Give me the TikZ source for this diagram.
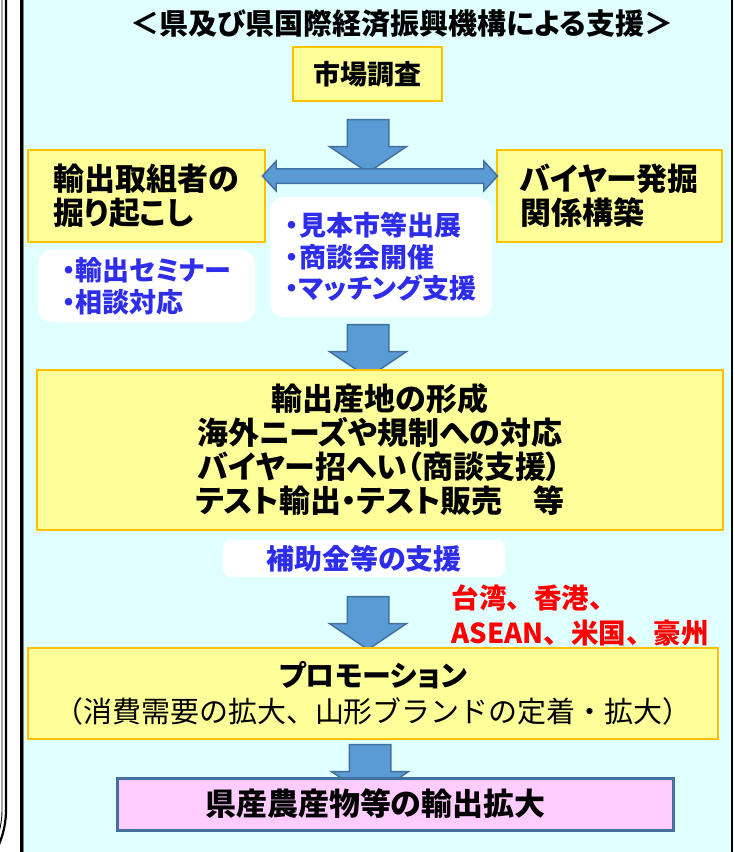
\documentclass[tikz,border=0pt]{standalone}
\usepackage{fontspec}
\setmainfont{Noto Sans CJK JP}[RawFeature=+palt]
\usetikzlibrary{shapes.arrows}
\definecolor{bgcyan}{RGB}{224,255,255}
\definecolor{yfill}{RGB}{255,255,153}
\definecolor{yborder}{RGB}{255,192,0}
\definecolor{afill}{RGB}{91,155,213}
\definecolor{aborder}{RGB}{65,113,156}
\definecolor{pfill}{RGB}{255,204,255}
\definecolor{bluetext}{RGB}{45,45,235}
\definecolor{redtext}{RGB}{255,0,0}
\newcommand\fsz[2]{\fontsize{#1}{#2}\selectfont}
\newcommand\nopalt{\addfontfeatures{RawFeature=-palt}}
\begin{document}
\begin{tikzpicture}[x=1pt,y=-1pt,
  ybox/.style={draw=yborder, fill=yfill, line width=2.5pt, inner sep=0pt, align=center},
  wbox/.style={fill=white, rounded corners=14pt, inner sep=0pt, text=bluetext, align=left},
  downarr/.style={single arrow, draw=aborder, fill=afill, line width=1.5pt,
    inner xsep=0pt, inner ysep=20pt,
    minimum height=53pt, minimum width=75pt, single arrow head extend=17.5pt,
    single arrow tip angle=112, rotate=-90},
  lrarr/.style={double arrow, draw=aborder, fill=afill, line width=1.5pt,
    inner xsep=0pt, inner ysep=6.5pt,
    minimum height=235pt, minimum width=28pt, double arrow head extend=7.5pt,
    double arrow tip angle=95},
  pbox/.style={draw=aborder, fill=pfill, line width=3pt, inner sep=0pt}]
\useasboundingbox (0,0) rectangle (735,852);
% neighbouring panel edge (double line with rounded corner)
\draw[line width=2.2pt] (6,-5) -- (6,810) arc[start angle=0, end angle=40, radius=88];
\draw[line width=0.9pt] (2,-5) -- (2,810) arc[start angle=0, end angle=40, radius=84];
% main panel
\fill[bgcyan] (22,-5) rectangle (733,860);
\draw[line width=3pt] (21.5,-5) -- (21.5,860);
\draw[line width=0.8pt, gray] (23.5,-5) -- (23.5,860);
\draw[line width=2pt] (732,-5) -- (732,860);
% title
\node[font=\bfseries\fsz{29}{34}] (title) at (402,24) {＜県及び県国際経済振興機構による支援＞};
% market research
\node[ybox, minimum width=149pt, minimum height=54pt, font=\bfseries\fsz{27}{32}] (shijo) at (367.5,74) {市場調査};
\node[downarr] (a1) at (368,139) {};
% side boxes
\node[ybox, minimum width=237pt, minimum height=92pt, align=left, font=\bfseries\fsz{31}{34}] (hori) at (146.5,196) {輸出取組者の\\掘り起こし};
\node[ybox, minimum width=225pt, minimum height=92pt, align=left, font=\bfseries\fsz{31}{34}] (buyer) at (609.5,196) {バイヤー発掘\\関係構築};
\node[lrarr] (lr) at (380,176) {};
% white boxes
\node[wbox, minimum width=217pt, minimum height=72pt, font=\bfseries\fsz{27}{32}] (seminar) at (146.5,286) {・輸出セミナー\\・相談対応};
\node[wbox, minimum width=222pt, minimum height=120pt, font=\bfseries\fsz{27}{31.5}] (mihon) at (381,257) {・見本市等出展\\・商談会開催\\・マッチング支援};
\node[downarr] (a2) at (368,344) {};
% production area
\node[ybox, minimum width=686pt, minimum height=160pt, font=\bfseries\fsz{31}{34}] (sanchi) at (380,450) {輸出産地の形成\\海外ニーズや規制への対応\\バイヤー招へい（商談支援）\\テスト輸出・テスト販売　等};
\node[wbox, rounded corners=8pt, align=center, minimum width=282pt, minimum height=37pt, font=\bfseries\fsz{28}{30}] (hojo) at (364,558.5) {補助金等の支援};
\node[downarr] (a3) at (368,616) {};
\node[anchor=west, text=redtext, align=left, font=\bfseries\nopalt\fsz{27.5}{35}] (dest) at (448,615.5) {台湾、香港、\\ASEAN、米国、豪州};
% promotion
\node[ybox, minimum width=690pt, minimum height=91pt, font=\fsz{29}{36}] (promo) at (373,693.5) {\bfseries\fsz{29}{36}プロモーション\\\nopalt（消費需要の拡大、山形ブランドの定着・拡大）};
\node[downarr] (a4) at (370,764) {};
\node[pbox, minimum width=556pt, minimum height=52pt, inner xsep=88pt, text width=380pt, align=left, font=\bfseries\fsz{31}{34}] (kakudai) at (395,804) {県産農産物等の輸出拡大};
\end{tikzpicture}
\end{document}
